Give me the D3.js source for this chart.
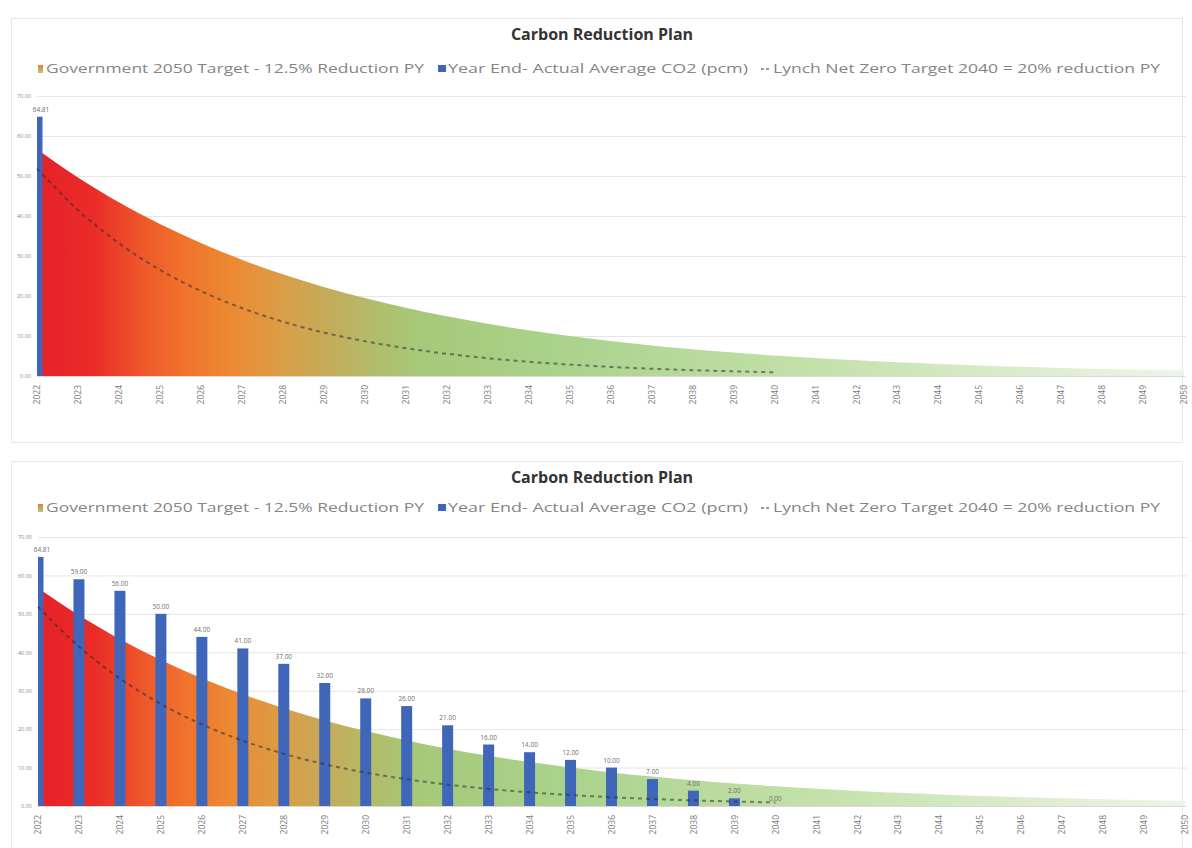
<!DOCTYPE html>
<html>
<head>
<meta charset="utf-8">
<script src="https://cdn.jsdelivr.net/npm/d3@7"></script>
<style>
  html, body { margin: 0; padding: 0; background: #ffffff; }
  svg { display: block; }
</style>
</head>
<body>
<svg id="chart" width="1192" height="848"></svg>
<script>
// Years along the category axis
const years = ["2022","2023","2024","2025","2026","2027","2028","2029","2030","2031",
  "2032","2033","2034","2035","2036","2037","2038","2039","2040","2041",
  "2042","2043","2044","2045","2046","2047","2048","2049","2050"];

// Government 2050 target (12.5% reduction per year)
const govTarget = [56.71, 49.62, 43.42, 37.99, 33.24, 29.09, 25.45, 22.27, 19.49, 17.05,
  14.92, 13.05, 11.42, 9.99, 8.75, 7.65, 6.70, 5.86, 5.13, 4.49,
  3.93, 3.43, 3.01, 2.63, 2.30, 2.01, 1.76, 1.54, 1.35];

// Lynch net zero target 2040 (20% reduction per year)
const lynchYears = years.slice(0, 19);
const lynchTarget = [51.85, 41.48, 33.18, 26.55, 21.24, 16.99, 13.59, 10.87, 8.70, 6.96,
  5.57, 4.45, 3.56, 2.85, 2.28, 1.82, 1.46, 1.17, 0.93];

// Year-end actual average CO2 (pcm)
const actualYearsA = ["2022"];
const actualA = [64.81];
const actualYearsB = years.slice(0, 19);
const actualB = [64.81, 59.00, 56.00, 50.00, 44.00, 41.00, 37.00, 32.00, 28.00, 26.00,
  21.00, 16.00, 14.00, 12.00, 10.00, 7.00, 4.00, 2.00, 0.00];

const yTicks = [0, 10, 20, 30, 40, 50, 60, 70];

const titleText = "Carbon Reduction Plan";
const legendGov = "Government 2050 Target - 12.5% Reduction PY";
const legendActual = "Year End- Actual Average CO2 (pcm)";
const legendLynch = "Lynch Net Zero Target 2040 = 20% reduction PY";

const svg = d3.select("#chart");
const defs = svg.append("defs");
const FONT = "'Open Sans', 'DejaVu Sans', sans-serif";

const gradStops = [
  [0.00, "#e6212a"], [0.05, "#ea2c28"], [0.09, "#ee562a"], [0.13, "#f0742c"],
  [0.17, "#ec8a33"], [0.21, "#dc9c45"], [0.25, "#c6aa58"], [0.29, "#b3bb68"],
  [0.33, "#a6c879"], [0.45, "#a9d28a"], [0.70, "#c6e2ae"], [1.00, "#edf6e6"]
];

function drawChart(id, cfg) {
  const g = svg.append("g");

  // frame
  g.append("rect")
    .attr("x", 11.5).attr("y", cfg.boxTop + 0.5)
    .attr("width", 1171).attr("height", cfg.boxHeight)
    .attr("fill", "none").attr("stroke", "#e6e6e6").attr("stroke-width", 1);

  const x = d3.scalePoint().domain(years).range([cfg.left, cfg.right]);
  const y = d3.scaleLinear().domain([0, 70]).range([cfg.bottom, cfg.top]);

  // gradient for the government target area
  const grad = defs.append("linearGradient")
    .attr("id", "grad" + id)
    .attr("gradientUnits", "userSpaceOnUse")
    .attr("x1", cfg.left).attr("x2", cfg.right)
    .attr("y1", 0).attr("y2", 0);
  gradStops.forEach(s => grad.append("stop").attr("offset", s[0]).attr("stop-color", s[1]));

  defs.append("clipPath").attr("id", "clip" + id)
    .append("rect")
    .attr("x", cfg.left).attr("y", cfg.top - 40)
    .attr("width", cfg.right - cfg.left).attr("height", cfg.bottom - cfg.top + 40);

  // title
  g.append("text")
    .attr("x", 602).attr("y", cfg.titleY)
    .attr("text-anchor", "middle")
    .attr("font-family", FONT).attr("font-weight", "bold")
    .attr("font-size", 16).attr("fill", "#333333")
    .text(titleText);

  // legend
  const ly = cfg.legendY;
  const lg = g.append("g").attr("font-family", FONT).attr("font-size", 12.5).attr("fill", "#858585");
  lg.append("rect").attr("x", 38).attr("y", ly - 8).attr("width", 5).attr("height", 8)
    .attr("fill", "url(#legGrad)");
  lg.append("text").attr("x", 46).attr("y", ly).attr("textLength", 378)
    .attr("lengthAdjust", "spacingAndGlyphs").text(legendGov);
  lg.append("rect").attr("x", 438).attr("y", ly - 8).attr("width", 8).attr("height", 7)
    .attr("fill", "#3f66b9");
  lg.append("text").attr("x", 448).attr("y", ly).attr("textLength", 300)
    .attr("lengthAdjust", "spacingAndGlyphs").text(legendActual);
  lg.append("line").attr("x1", 761).attr("x2", 771).attr("y1", ly - 4).attr("y2", ly - 4)
    .attr("stroke", "#7a7a7a").attr("stroke-width", 1.5).attr("stroke-dasharray", "3,2");
  lg.append("text").attr("x", 773).attr("y", ly).attr("textLength", 387)
    .attr("lengthAdjust", "spacingAndGlyphs").text(legendLynch);

  // gridlines and y tick labels
  const yAxis = d3.axisLeft(y).tickValues(yTicks).tickSize(-(cfg.right - cfg.left + 2))
    .tickFormat(d3.format(".2f"));
  const ya = g.append("g").attr("transform", `translate(${cfg.left},0)`).call(yAxis);
  ya.select(".domain").remove();
  ya.selectAll(".tick line").attr("stroke", "#e6e6e6").attr("stroke-width", 1);
  ya.selectAll(".tick text").attr("x", -6)
    .attr("font-family", FONT).attr("font-size", 5.5).attr("fill", "#8a8a8a");

  // government target area
  const area = d3.area()
    .x((d, i) => x(years[i]))
    .y0(y(0))
    .y1(d => y(d))
    .curve(d3.curveMonotoneX);
  g.append("path").datum(govTarget)
    .attr("d", area)
    .attr("fill", `url(#grad${id})`);

  // actual bars
  const barW = 11;
  const bars = g.append("g").attr("clip-path", `url(#clip${id})`);
  bars.selectAll("rect").data(cfg.actual.filter(d => d > 0))
    .enter().append("rect")
    .attr("x", (d, i) => x(cfg.actualYears[i]) - barW / 2)
    .attr("y", d => y(d))
    .attr("width", barW)
    .attr("height", d => y(0) - y(d))
    .attr("fill", "#3f66b9");

  // Lynch target dashed line
  const line = d3.line()
    .x((d, i) => x(lynchYears[i]))
    .y(d => y(d))
    .curve(d3.curveMonotoneX);
  g.append("path").datum(lynchTarget)
    .attr("d", line)
    .attr("fill", "none")
    .attr("stroke", "#2e2e2e").attr("stroke-opacity", 0.55)
    .attr("stroke-width", 2).attr("stroke-dasharray", "4,4");

  // bar value labels
  g.append("g").selectAll("text").data(cfg.actual)
    .enter().append("text")
    .attr("x", (d, i) => x(cfg.actualYears[i]) + (i === 0 ? 4 : 0))
    .attr("y", d => y(d) - 5)
    .attr("text-anchor", "middle")
    .attr("font-family", FONT).attr("font-size", 6.5).attr("fill", "#6f6f6f")
    .text(d => d3.format(".2f")(d));

  // baseline
  g.append("line")
    .attr("x1", cfg.left).attr("x2", cfg.right)
    .attr("y1", y(0) + 0.5).attr("y2", y(0) + 0.5)
    .attr("stroke", "#d9d9d9");

  // x axis labels (rotated)
  const xa = g.append("g").attr("transform", `translate(0,${cfg.bottom})`)
    .call(d3.axisBottom(x).tickSize(0));
  xa.select(".domain").remove();
  xa.selectAll(".tick text")
    .attr("font-family", FONT).attr("font-size", 8.5).attr("fill", "#7a7a7a")
    .attr("transform", "rotate(-90)")
    .attr("text-anchor", "end")
    .attr("x", -9).attr("y", 0).attr("dy", "0.32em");
}

// legend swatch gradient
const lgGrad = defs.append("linearGradient").attr("id", "legGrad")
  .attr("x1", 0).attr("x2", 0).attr("y1", 0).attr("y2", 1);
lgGrad.append("stop").attr("offset", 0).attr("stop-color", "#ef7b2d");
lgGrad.append("stop").attr("offset", 1).attr("stop-color", "#a8cf80");

drawChart("A", {
  boxTop: 18, boxHeight: 424,
  titleY: 40, legendY: 73,
  left: 37, right: 1184, top: 96, bottom: 376,
  actualYears: actualYearsA, actual: actualA
});

drawChart("B", {
  boxTop: 461, boxHeight: 400,
  titleY: 483, legendY: 512,
  left: 38, right: 1185, top: 537, bottom: 806,
  actualYears: actualYearsB, actual: actualB
});
</script>
</body>
</html>
